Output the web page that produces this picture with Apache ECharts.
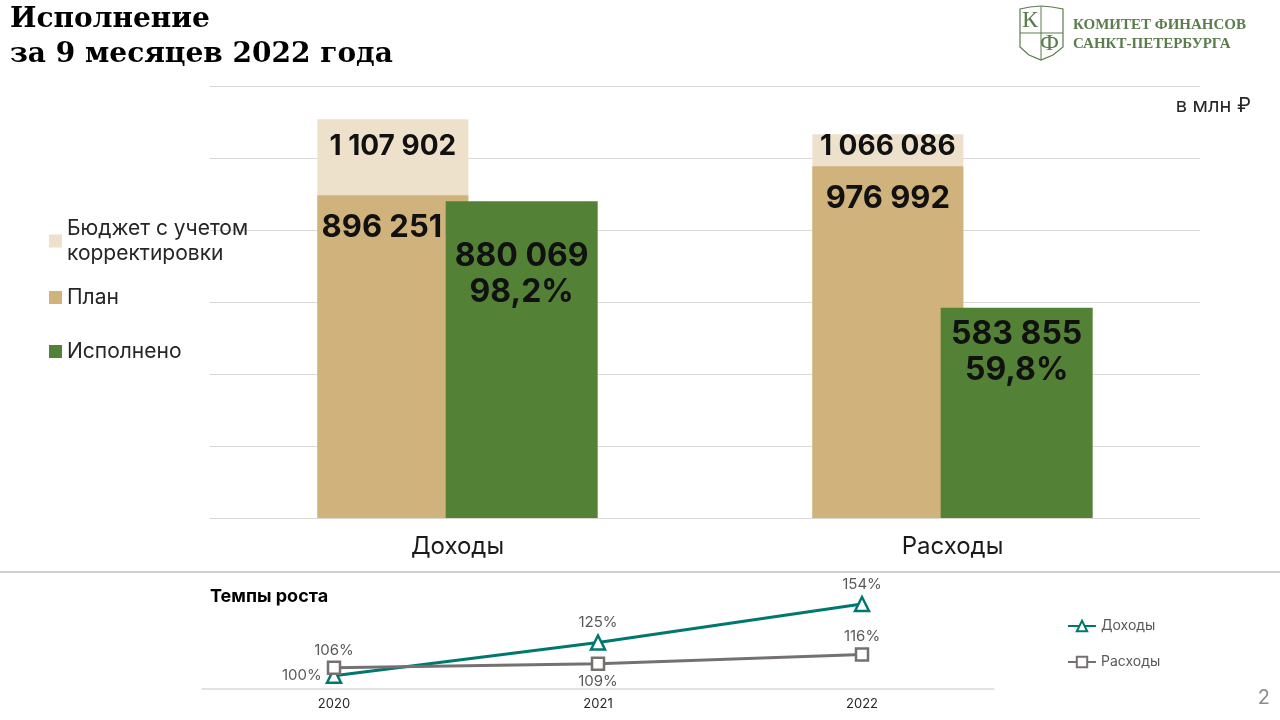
<!DOCTYPE html>
<html>
<head>
<meta charset="utf-8">
<script src="https://cdn.jsdelivr.net/npm/echarts@6/dist/echarts.min.js"></script>
<style>
  html, body { margin: 0; padding: 0; background: #fff; }
  #chart { width: 1280px; height: 720px; }
</style>
</head>
<body>
<div id="chart"></div>
<script>
  // основные показатели, млн руб.
  const categories = ['Доходы', 'Расходы'];
  const budget = [1107902, 1066086];
  const plan = [896251, 976992];
  const executed = [880069, 583855];
  const executedPct = ['98,2%', '59,8%'];

  // темпы роста, %
  const years = ['2020', '2021', '2022'];
  const growthIncome = [100, 125, 154];
  const growthSpend = [106, 109, 116];

  const font = 'Inter, "Noto Sans", sans-serif';
  const fmt = v => String(v).replace(/\B(?=(\d{3})+(?!\d))/g, ' ');
  const logoColor = '#5b7c4c';

  const chart = echarts.init(document.getElementById('chart'));

  const legendBase = {
    orient: 'vertical',
    left: 44,
    itemWidth: 13,
    itemHeight: 13,
    icon: 'rect',
    textStyle: { fontFamily: font, fontSize: 21, color: '#262626', lineHeight: 25 }
  };

  const option = {
    animation: false,
    grid: [
      { left: 210, right: 80, top: 86, bottom: 202 },
      { left: 202, width: 792, top: 596, height: 93 }
    ],
    legend: [
      Object.assign({}, legendBase, {
        top: 211, data: ['Бюджет с учетом корректировки'],
        formatter: () => 'Бюджет с учетом\nкорректировки'
      }),
      Object.assign({}, legendBase, { top: 280, data: ['План'] }),
      Object.assign({}, legendBase, { top: 334, data: ['Исполнено'] }),
      {
        orient: 'vertical',
        left: 1062,
        top: 614,
        itemGap: 22,
        itemWidth: 28,
        itemHeight: 13,
        data: ['Доходы', 'Расходы'],
        textStyle: { fontFamily: font, fontSize: 14, color: '#595959' }
      }
    ],
    xAxis: [
      {
        type: 'category', gridIndex: 0, data: categories,
        axisLine: { show: false }, axisTick: { show: false },
        axisLabel: { fontFamily: font, fontSize: 24, color: '#1a1a1a', margin: 17 }
      },
      {
        type: 'category', gridIndex: 0, data: categories, show: false
      },
      {
        type: 'category', gridIndex: 1, data: years,
        axisLine: { lineStyle: { color: '#d9d9d9', width: 1.5 } },
        axisTick: { show: false },
        axisLabel: { fontFamily: font, fontSize: 13, color: '#262626', margin: 9 }
      }
    ],
    yAxis: [
      {
        type: 'value', gridIndex: 0, min: 0, max: 1200000, interval: 200000,
        axisLabel: { show: false }, axisLine: { show: false }, axisTick: { show: false },
        splitLine: { lineStyle: { color: '#d9d9d9', width: 1 } }
      },
      {
        type: 'value', gridIndex: 1, min: 90, max: 160,
        show: false, splitLine: { show: false }
      }
    ],
    series: [
      {
        name: 'Бюджет с учетом корректировки',
        type: 'bar', xAxisIndex: 1, yAxisIndex: 0,
        barWidth: 151,
        itemStyle: { color: '#EDE1CC' },
        data: budget.map((v, i) => ({
          value: v,
          label: { distance: [13, -2][i] }
        })),
        label: {
          show: true, position: 'insideTop',
          fontFamily: font, fontWeight: 'bold', fontSize: 28, color: '#111',
          formatter: p => fmt(p.value)
        }
      },
      {
        name: '_slot', type: 'bar', xAxisIndex: 1, yAxisIndex: 0,
        barWidth: 152, barGap: '-15%', data: []
      },
      {
        name: 'План',
        type: 'bar', xAxisIndex: 0, yAxisIndex: 0,
        barWidth: 151,
        itemStyle: { color: '#CFB27C' },
        data: plan.map((v, i) => ({
          value: v,
          label: { offset: [[-11, 0], [0, 0]][i] }
        })),
        label: {
          show: true, position: 'insideTop', distance: 17,
          fontFamily: font, fontWeight: 'bold', fontSize: 31, color: '#111',
          formatter: p => fmt(p.value)
        }
      },
      {
        name: 'Исполнено',
        type: 'bar', xAxisIndex: 0, yAxisIndex: 0,
        barWidth: 152, barGap: '-15%',
        itemStyle: { color: '#538135' },
        data: executed.map((v, i) => ({
          value: v,
          label: { distance: [37, 9][i] }
        })),
        label: {
          show: true, position: 'insideTop',
          fontFamily: font, fontWeight: 'bold', fontSize: 32, lineHeight: 36, color: '#111',
          formatter: p => fmt(p.value) + '\n' + executedPct[p.dataIndex]
        }
      },
      {
        name: 'Доходы',
        type: 'line', xAxisIndex: 2, yAxisIndex: 1,
        symbol: 'triangle', symbolSize: 14,
        lineStyle: { color: '#00786E', width: 3 },
        itemStyle: { color: '#fff', borderColor: '#00786E', borderWidth: 2.5 },
        data: growthIncome.map((v, i) => ({
          value: v,
          label: { position: ['left', 'top', 'top'][i] }
        })),
        label: {
          show: true, distance: 4,
          fontFamily: font, fontSize: 15, color: '#595959',
          formatter: p => p.value + '%'
        }
      },
      {
        name: 'Расходы',
        type: 'line', xAxisIndex: 2, yAxisIndex: 1,
        symbol: 'rect', symbolSize: 12,
        lineStyle: { color: '#767171', width: 3 },
        itemStyle: { color: '#fff', borderColor: '#767171', borderWidth: 2.5 },
        data: growthSpend.map((v, i) => ({
          value: v,
          label: { position: ['top', 'bottom', 'top'][i] }
        })),
        label: {
          show: true, distance: 3,
          fontFamily: font, fontSize: 15, color: '#595959',
          formatter: p => p.value + '%'
        }
      }
    ],
    graphic: [
      {
        type: 'text', left: 10, top: 2,
        style: {
          text: 'Исполнение\nза 9 месяцев 2022 года',
          font: 'bold 28px "DejaVu Serif", serif', lineHeight: 35, fill: '#000'
        }
      },
      {
        type: 'text', right: 29, top: 96,
        style: { text: 'в млн ₽', font: '20px ' + font, fill: '#262626' }
      },
      {
        type: 'text', left: 210, top: 588,
        style: { text: 'Темпы роста', font: 'bold 18px ' + font, fill: '#000' }
      },
      {
        type: 'text', right: 10, top: 688,
        style: { text: '2', font: '20px ' + font, fill: '#8c8c8c' }
      },
      {
        type: 'line', shape: { x1: 0, y1: 572, x2: 1280, y2: 572 },
        style: { stroke: '#bfbfbf', lineWidth: 1.5 }
      },
      {
        type: 'polygon',
        shape: {
          points: [[1020, 9], [1030, 7], [1041, 6], [1052, 7], [1063, 9], [1063, 47],
                   [1053, 55], [1041, 60], [1029, 55], [1020, 47]]
        },
        style: { fill: 'none', stroke: logoColor, lineWidth: 1.2 }
      },
      {
        type: 'line', shape: { x1: 1041, y1: 7, x2: 1041, y2: 60 },
        style: { stroke: logoColor, lineWidth: 1 }
      },
      {
        type: 'line', shape: { x1: 1020, y1: 33, x2: 1063, y2: 33 },
        style: { stroke: logoColor, lineWidth: 1 }
      },
      {
        type: 'text', x: 1022, y: 9,
        style: { text: 'К', font: '24px "Liberation Serif", serif', fill: logoColor }
      },
      {
        type: 'text', x: 1040, y: 32,
        style: { text: 'Ф', font: '24px "Liberation Serif", serif', fill: logoColor }
      },
      {
        type: 'text', x: 1073, y: 16,
        style: {
          text: 'КОМИТЕТ ФИНАНСОВ\nСАНКТ-ПЕТЕРБУРГА',
          font: 'bold 15px "Liberation Serif", serif', lineHeight: 19, fill: logoColor
        }
      }
    ]
  };

  chart.setOption(option);
</script>
</body>
</html>
